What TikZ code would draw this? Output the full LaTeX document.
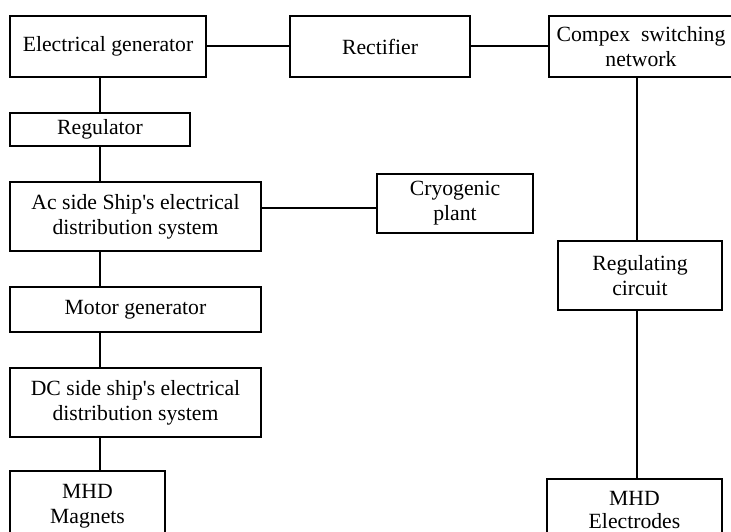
\documentclass[tikz,border=0pt]{standalone}
\usepackage{fontspec}
\setmainfont{Liberation Serif}
\newcommand{\apo}{\textquotesingle}
\begin{document}
\begin{tikzpicture}[x=1pt,y=-1pt,
  blk/.style={draw,line width=2pt,inner sep=0pt,align=center,
    font=\fontsize{21.7}{25}\selectfont},
  conn/.style={line width=2pt}]
\useasboundingbox (0,0) rectangle (731,532);
\node[blk,minimum width=196pt,minimum height=61pt] (eg) at (108,46.5) {Electrical generator};
\node[blk,minimum width=180pt,minimum height=61pt] (rect) at (380,46.5) {Rectifier};
\node[blk,minimum width=184pt,minimum height=61pt] (csn) at (641,46.5) {Compex\hspace{0.5em}switching\\network};
\node[blk,minimum width=180pt,minimum height=33pt] (reg) at (100,129.5) {Regulator};
\node[blk,minimum width=251pt,minimum height=69pt] (ac) at (135.5,216.5) {Ac side Ship\apo s electrical\\distribution system};
\node[blk,minimum width=156pt,minimum height=59pt] (cryo) at (455,203.5) {Cryogenic\\plant};
\node[blk,minimum width=251pt,minimum height=45pt] (mg) at (135.5,309.5) {Motor generator};
\node[blk,minimum width=251pt,minimum height=69pt] (dc) at (135.5,402.5) {DC side ship\apo s electrical\\distribution system};
\node[blk,minimum width=155pt,minimum height=70pt] (mhdm) at (87.5,506) {MHD\\Magnets};
\node[blk,minimum width=164pt,minimum height=69pt] (rc) at (640,275.5) {Regulating\\circuit};
\node[blk,minimum width=175pt,minimum height=62pt] (mhde) at (634.5,510) {MHD\\[-2pt]Electrodes};
\coordinate (lx) at (100,0);
\coordinate (rx) at (637,0);
\coordinate (ly) at (0,208);
\draw[conn] (eg.east) -- (rect.west);
\draw[conn] (rect.east) -- (csn.west);
\draw[conn] (lx |- eg.south) -- (lx |- reg.north);
\draw[conn] (lx |- reg.south) -- (lx |- ac.north);
\draw[conn] (lx |- ac.south) -- (lx |- mg.north);
\draw[conn] (lx |- mg.south) -- (lx |- dc.north);
\draw[conn] (lx |- dc.south) -- (lx |- mhdm.north);
\draw[conn] (ac.east |- ly) -- (cryo.west |- ly);
\draw[conn] (rx |- csn.south) -- (rx |- rc.north);
\draw[conn] (rx |- rc.south) -- (rx |- mhde.north);
\end{tikzpicture}
\end{document}
